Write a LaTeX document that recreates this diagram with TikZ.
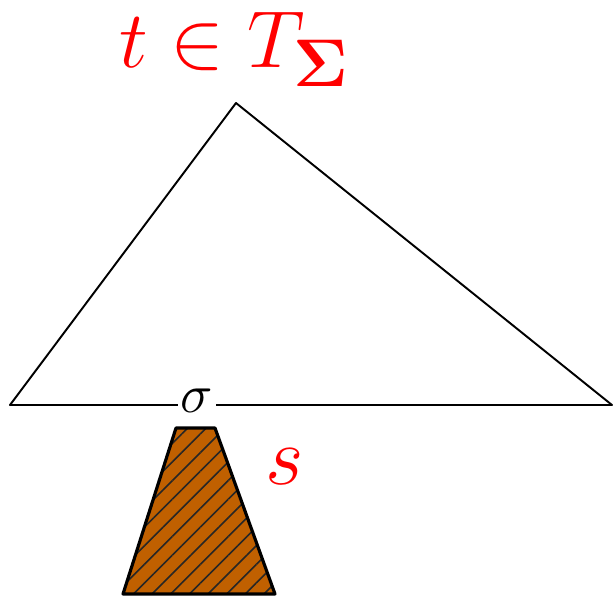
\documentclass[tikz,border=0pt]{standalone}
\usepackage{amsmath}
\usetikzlibrary{patterns.meta}
\definecolor{subtree}{RGB}{192,96,0}
\begin{document}
\begin{tikzpicture}[
    big/.style={font=\Huge},
    hatched/.style={preaction={fill=subtree},pattern={Lines[angle=45,distance=7.5pt,line width=0.9pt]},pattern color=black!85}
]
    \useasboundingbox (0,0) rectangle (12.26,11.94);
    \coordinate (apex) at (4.72,9.88);
    \coordinate (left) at (0.2,3.84);
    \coordinate (right) at (12.24,3.84);
    \draw[line width=1.1pt,line join=round] (left) -- (apex) -- (right) -- cycle;
    \node[big,scale=1.25,fill=white,inner sep=1.5pt] (sigma) at (3.94,3.92) {$\sigma$};
    \draw[hatched,line width=1.8pt,line join=round]
        (3.52,3.38) -- (4.3,3.38) -- (5.5,0.06) -- (2.46,0.06) -- cycle;
    \node[big,scale=1.9,text=red] (s) at (5.7,2.6) {$s$};
    \node[big,scale=1.85,text=red,inner sep=0pt] (tree) at (4.7,10.95) {$t \in T_{\boldsymbol{\Sigma}}$};
\end{tikzpicture}
\end{document}
